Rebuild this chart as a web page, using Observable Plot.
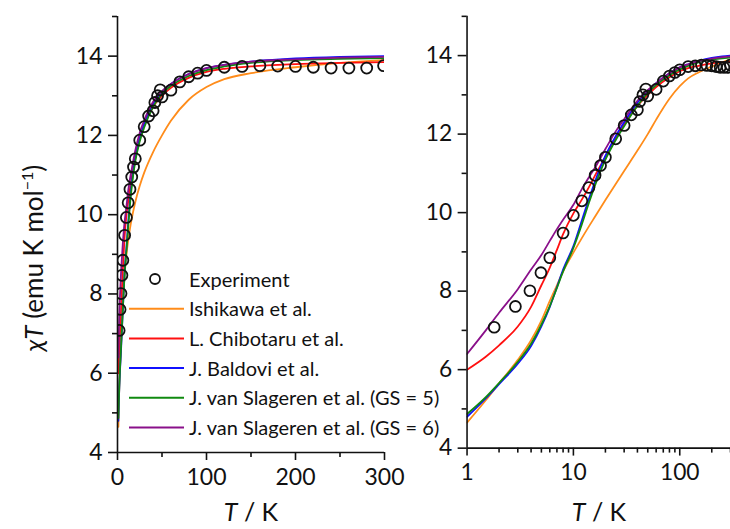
<!DOCTYPE html>
<html><head><meta charset="utf-8">
<script src="https://cdn.jsdelivr.net/npm/d3@7"></script>
<script src="https://cdn.jsdelivr.net/npm/@observablehq/plot@0.6"></script>
<style>
html,body{margin:0;padding:0;background:#fff;overflow:hidden;}
#wrap{position:relative;width:730px;height:529px;overflow:hidden;font-family:Lato,sans-serif;}
#left{position:absolute;left:0;top:0;}
#right{position:absolute;left:420px;top:0;}
#overlay{position:absolute;left:0;top:0;pointer-events:none;}
</style></head><body>
<div id="wrap"><div id="left"></div><div id="right"></div><svg id="overlay" width="730" height="529"></svg></div>
<script>
// ---- data ----
const seriesNames = ["Ishikawa et al.", "L. Chibotaru et al.", "J. Baldovi et al.", "J. van Slageren et al. (GS = 5)", "J. van Slageren et al. (GS = 6)"];
const seriesColors = ["#ff8c1a", "#ff1010", "#1010ff", "#108a10", "#8a108a"];
const modelT = [1, 1.5, 2, 3, 4, 5, 6, 7, 8, 10, 12, 14, 16, 20, 25, 30, 40, 50, 60, 80, 100, 120, 150, 200, 250, 300];
const ishikawa  = [4.65, 5.22, 5.65, 6.25, 6.75, 7.25, 7.75, 8.15, 8.5, 8.98, 9.35, 9.65, 9.9, 10.32, 10.73, 11.06, 11.58, 12.0, 12.37, 12.9, 13.22, 13.42, 13.57, 13.72, 13.83, 13.9];
const chibotaru = [6.0, 6.33, 6.62, 7.1, 7.6, 8.15, 8.6, 9.05, 9.45, 9.98, 10.33, 10.65, 10.95, 11.42, 11.9, 12.25, 12.72, 13.0, 13.2, 13.45, 13.6, 13.68, 13.74, 13.8, 13.83, 13.85];
const baldovi   = [4.8, 5.27, 5.63, 6.15, 6.6, 7.1, 7.6, 8.1, 8.55, 9.15, 9.8, 10.35, 10.8, 11.45, 11.95, 12.3, 12.8, 13.1, 13.3, 13.55, 13.7, 13.78, 13.86, 13.94, 13.98, 14.0];
const slageren5 = [4.87, 5.3, 5.66, 6.2, 6.66, 7.15, 7.62, 8.08, 8.5, 9.1, 9.7, 10.25, 10.7, 11.35, 11.85, 12.2, 12.72, 13.05, 13.25, 13.5, 13.65, 13.74, 13.83, 13.9, 13.93, 13.95];
const slageren6 = [6.4, 7.0, 7.45, 8.05, 8.55, 8.92, 9.28, 9.58, 9.82, 10.2, 10.6, 10.9, 11.15, 11.62, 12.07, 12.38, 12.85, 13.12, 13.3, 13.55, 13.7, 13.78, 13.86, 13.92, 13.96, 13.98];
const expT   = [1.8, 2.85, 3.9, 4.95, 6, 8, 10, 12, 14, 16, 18, 20, 25, 30, 35, 40, 42, 45, 48, 50, 60, 70, 80, 90, 100, 120, 140, 160, 180, 200, 220, 240, 260, 280, 299];
const expChi = [7.08, 7.61, 8.01, 8.47, 8.85, 9.48, 9.93, 10.3, 10.64, 10.95, 11.2, 11.41, 11.88, 12.22, 12.49, 12.62, 12.83, 13.0, 13.15, 12.97, 13.14, 13.35, 13.48, 13.57, 13.64, 13.72, 13.74, 13.76, 13.75, 13.74, 13.72, 13.7, 13.7, 13.7, 13.76];
const yTicks = [4, 6, 8, 10, 12, 14];
const yMinor = [5, 7, 9, 11, 13, 15];
const xTicksLin = [0, 100, 200, 300];
const xMinorLin = [50, 150, 250];
const xTicksLog = [1, 10, 100];
const xMinorLog = [2, 3, 4, 5, 6, 7, 8, 9, 20, 30, 40, 50, 60, 70, 80, 90, 200, 300];
const yLabel = ["χ", "T", " (emu K mol", "−1", ")"];
const xLabel = ["T", " / K"];

const modelValues = [ishikawa, chibotaru, baldovi, slageren5, slageren6];
const modelRows = seriesNames.flatMap((name, i) => modelT.map((t, j) => ({name, T: t, chi: modelValues[i][j]})));
const expRows = expT.map((t, i) => ({T: t, chi: expChi[i]}));

const font = "Lato, 'Open Sans', sans-serif";
const base = {
  height: 529, marginTop: 16, marginBottom: 77,
  y: {domain: [4, 15]},
  color: {domain: seriesNames, range: seriesColors},
  style: {fontFamily: font, fontSize: "23px", color: "#111", background: "transparent", overflow: "visible"}
};
function marks(xMajor, xMinor, x0) {
  return [
    Plot.axisY({ticks: yTicks, tickSize: 9, tickPadding: 6, strokeWidth: 1.6, tickFormat: d => String(d), label: null}),
    Plot.axisY({ticks: yMinor, tickSize: 5, fill: "none", strokeWidth: 1.6, label: null}),
    Plot.axisX({ticks: xMajor, tickSize: 8, tickPadding: 8, strokeWidth: 1.6, tickFormat: d => String(d), label: null}),
    Plot.axisX({ticks: xMinor, tickSize: 5, fill: "none", strokeWidth: 1.6, label: null}),
    Plot.line(modelRows, {x: "T", y: "chi", z: "name", stroke: "name", strokeWidth: 1.8, curve: "monotone-x", clip: true}),
    Plot.dot(expRows, {x: "T", y: "chi", r: 5.5, stroke: "#111", strokeWidth: 1.8, fill: "none", clip: true}),
    Plot.ruleX([x0], {strokeWidth: 1.6, stroke: "#111"}),
    Plot.ruleY([4], {strokeWidth: 1.6, stroke: "#111"})
  ];
}
const left = Plot.plot({...base, width: 420, marginLeft: 117, marginRight: 36,
  x: {type: "linear", domain: [0, 300]}, marks: marks(xTicksLin, xMinorLin, 0)});
const right = Plot.plot({...base, width: 313, marginLeft: 47, marginRight: 0,
  x: {type: "log", domain: [1, 300]}, marks: marks(xTicksLog, xMinorLog, 1)});
document.getElementById("left").appendChild(left);
document.getElementById("right").appendChild(right);

// ---- labels and legend overlay ----
const ov = d3.select("#overlay").style("font-family", font).style("fill", "#111");
function xLab(cx) {
  const t = ov.append("text").attr("x", cx).attr("y", 521).attr("text-anchor", "middle").attr("font-size", 25);
  t.append("tspan").attr("font-style", "italic").text(xLabel[0]);
  t.append("tspan").text(xLabel[1]);
}
xLab(251); xLab(599);
const yl = ov.append("text").attr("transform", "translate(43,258) rotate(-90)").attr("text-anchor", "middle").attr("font-size", 26);
yl.append("tspan").attr("font-style", "italic").text(yLabel[0]);
yl.append("tspan").attr("font-style", "italic").text(yLabel[1]);
yl.append("tspan").text(yLabel[2]);
yl.append("tspan").attr("font-size", 16).attr("dy", -10).text(yLabel[3]);
yl.append("tspan").attr("dy", 10).text(yLabel[4]);

const legY0 = 279, legStep = 29.7;
const lg = ov.append("g").attr("font-size", 20);
lg.append("circle").attr("cx", 155).attr("cy", legY0).attr("r", 5).attr("fill", "none").attr("stroke", "#111").attr("stroke-width", 1.8);
lg.append("text").attr("x", 189).attr("y", legY0 + 7.5).text("Experiment");
seriesNames.forEach((name, i) => {
  const y = legY0 + legStep * (i + 1);
  lg.append("line").attr("x1", 129).attr("x2", 184).attr("y1", y).attr("y2", y).attr("stroke", seriesColors[i]).attr("stroke-width", 2);
  lg.append("text").attr("x", 189).attr("y", y + 7.5).text(name);
});
</script></body></html>
